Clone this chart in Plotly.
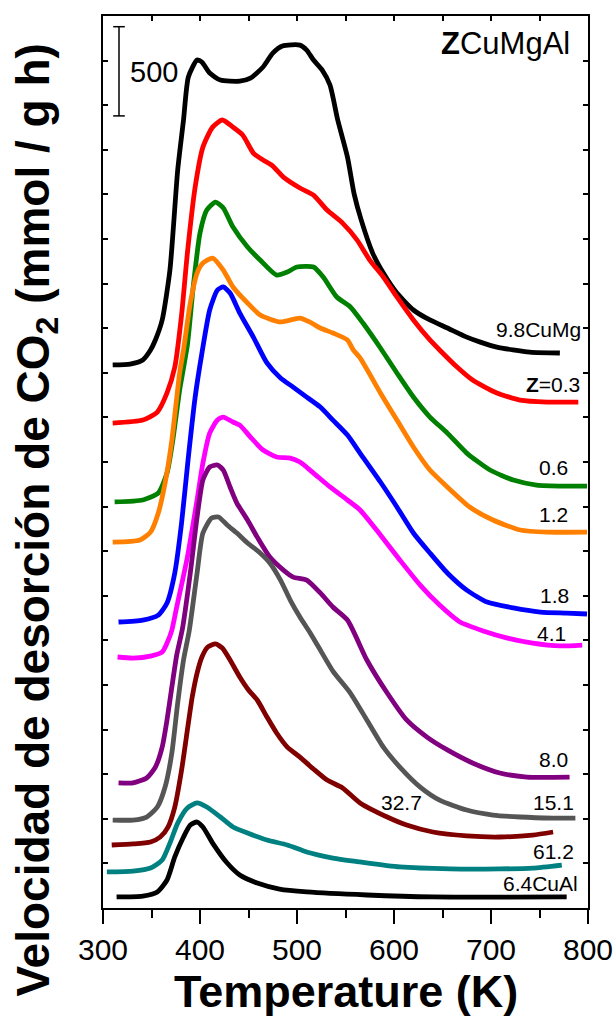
import plotly.graph_objects as go

# Temperature-programmed desorption profiles (stacked), rate in mmol/(g h)
labels = ["9.8CuMg", "<b>Z</b>=0.3", "0.6", "1.2", "1.8", "4.1", "8.0", "15.1", "32.7", "61.2", "6.4CuAl"]
colors = ["#000000", "#FF0000", "#008000", "#FF8000", "#0000FF", "#FF00FF",
          "#800080", "#555555", "#800000", "#008080", "#000000"]

t_cumg = [310, 328, 341, 349, 354, 361, 369, 377, 383, 388, 397, 402, 410, 421, 441, 452, 465, 475, 485,
          503, 510, 517, 526, 534, 542, 552, 559, 566, 578, 589, 603, 620, 637, 655, 675, 689, 706, 740, 771]
r_cumg = [3044, 3049, 3072, 3128, 3184, 3296, 3576, 4136, 4417, 4658, 4753, 4742, 4680, 4641, 4635, 4652, 4714,
          4792, 4832, 4837, 4809, 4753, 4697, 4613, 4417, 4210, 4000, 3860, 3671, 3559, 3447, 3352, 3296,
          3251, 3200, 3172, 3144, 3116, 3111]

t_z03 = [310, 341, 356, 366, 374, 381, 387, 395, 403, 413, 423, 434, 444, 455, 465, 474, 486, 503, 517, 531,
         547, 562, 575, 589, 603, 620, 637, 647, 665, 681, 706, 730, 758, 790]
r_z03 = [2718, 2735, 2780, 2887, 3032, 3324, 3671, 4041, 4265, 4377, 4417, 4377, 4333, 4232, 4193, 4164, 4097,
         4036, 3996, 3912, 3839, 3744, 3632, 3537, 3425, 3296, 3184, 3128, 3032, 2959, 2887, 2847, 2836, 2836]

t_z06 = [312, 341, 357, 366, 372, 379, 387, 393, 400, 407, 416, 424, 434, 449, 462, 479, 490, 500, 517, 527,
         541, 555, 568, 586, 603, 620, 637, 655, 675, 699, 723, 747, 778, 799]
r_z06 = [2276, 2287, 2326, 2438, 2623, 2903, 3156, 3481, 3783, 3912, 3957, 3924, 3817, 3705, 3632, 3548, 3565,
         3593, 3593, 3537, 3425, 3369, 3279, 3139, 2999, 2864, 2752, 2662, 2550, 2455, 2399, 2371, 2365, 2365]

t_z12 = [310, 338, 349, 357, 364, 371, 379, 383, 390, 397, 403, 413, 424, 434, 449, 462, 483, 503, 513, 524,
         537, 552, 558, 565, 586, 603, 620, 637, 655, 678, 702, 730, 758, 799]
r_z12 = [2051, 2063, 2107, 2214, 2382, 2623, 2999, 3128, 3391, 3559, 3615, 3643, 3576, 3481, 3391, 3324, 3285,
         3307, 3285, 3251, 3223, 3184, 3128, 3083, 2887, 2735, 2584, 2455, 2360, 2248, 2175, 2119, 2107, 2107]

t_z18 = [316, 341, 357, 366, 374, 381, 388, 395, 402, 410, 418, 424, 431, 441, 455, 469, 483, 496, 510, 524,
         537, 552, 565, 586, 603, 620, 637, 655, 675, 696, 723, 751, 778, 799]
r_z18 = [1603, 1614, 1642, 1710, 1878, 2158, 2528, 2864, 3111, 3352, 3464, 3481, 3447, 3335, 3200, 3055, 2971,
         2920, 2864, 2808, 2735, 2651, 2550, 2388, 2248, 2102, 1990, 1878, 1782, 1715, 1682, 1659, 1653, 1648]

t_z41 = [315, 331, 349, 361, 366, 371, 376, 387, 397, 403, 410, 418, 424, 434, 441, 452, 465, 479, 493, 503,
         517, 534, 552, 565, 586, 606, 627, 647, 668, 692, 717, 743, 771, 794]
r_z41 = [1407, 1401, 1412, 1435, 1485, 1558, 1687, 1967, 2287, 2494, 2662, 2735, 2752, 2724, 2707, 2640, 2567,
         2528, 2522, 2500, 2438, 2360, 2287, 2231, 2091, 1951, 1810, 1698, 1603, 1553, 1513, 1485, 1469, 1474]

t_z80 = [316, 331, 345, 354, 361, 366, 371, 376, 382, 390, 397, 403, 410, 418, 424, 431, 438, 449, 459, 472,
         486, 496, 510, 524, 537, 552, 572, 593, 613, 634, 655, 681, 709, 737, 781]
r_z80 = [701, 701, 729, 790, 902, 1054, 1239, 1418, 1569, 1878, 2192, 2399, 2472, 2483, 2455, 2360, 2270, 2175,
         2079, 1967, 1894, 1855, 1838, 1766, 1687, 1614, 1390, 1205, 1054, 958, 886, 813, 757, 734, 734]

t_z151 = [310, 331, 345, 356, 364, 371, 377, 383, 389, 397, 403, 412, 419, 428, 438, 449, 462, 472, 483, 493,
          503, 513, 521, 537, 555, 572, 589, 606, 627, 647, 675, 702, 730, 764, 787]
r_z151 = [493, 493, 510, 566, 678, 869, 1149, 1390, 1558, 1878, 2102, 2186, 2192, 2147, 2102, 2046, 1990, 1934,
          1838, 1726, 1631, 1547, 1474, 1328, 1205, 1054, 902, 790, 678, 605, 549, 521, 510, 504, 504]

t_z327 = [309, 331, 349, 359, 367, 374, 381, 387, 392, 397, 402, 408, 416, 423, 431, 441, 450, 459, 469, 479,
          490, 503, 517, 531, 547, 565, 593, 613, 640, 675, 709, 743, 764]
r_z327 = [353, 359, 370, 398, 454, 566, 773, 998, 1183, 1317, 1407, 1463, 1480, 1457, 1390, 1295, 1222, 1166,
          1071, 981, 902, 846, 779, 717, 673, 589, 510, 465, 426, 404, 398, 409, 426]

t_z612 = [304, 331, 349, 361, 369, 377, 387, 397, 407, 421, 434, 449, 469, 490, 510, 537, 565, 606, 658, 709,
          743, 773]
r_z612 = [202, 207, 224, 269, 364, 476, 561, 589, 566, 510, 454, 420, 381, 353, 314, 280, 258, 230, 219, 219,
          224, 241]

t_cual = [314, 341, 356, 366, 374, 383, 390, 397, 403, 413, 428, 441, 459, 482, 510, 572, 640, 778]
r_cual = [62, 67, 90, 157, 286, 398, 465, 482, 454, 364, 252, 185, 140, 106, 90, 73, 62, 62]

temps = [t_cumg, t_z03, t_z06, t_z12, t_z18, t_z41, t_z80, t_z151, t_z327, t_z612, t_cual]
rates = [r_cumg, r_z03, r_z06, r_z12, r_z18, r_z41, r_z80, r_z151, r_z327, r_z612, r_cual]

# label anchor (temperature, rate) and horizontal anchor for each curve label
label_t = [795, 794, 781, 781, 782, 779, 781, 788, 585, 788, 792]
label_r = [3245, 2937, 2472, 2203, 1749, 1536, 830, 589, 589, 314, 140]
label_anchor = ["right"] * 8 + ["left", "right", "right"]

FONT = "Liberation Sans, Arial, Helvetica, sans-serif"

fig = go.Figure()
for t, r, c, name in zip(temps, rates, colors, labels):
    fig.add_trace(go.Scatter(x=t, y=r, mode="lines", name=name,
                             line=dict(color=c, width=4.8, shape="spline", smoothing=0.6),
                             showlegend=False, hoverinfo="skip"))

# invisible trace so the mirrored top/right tick axes are rendered
fig.add_trace(go.Scatter(x=[300], y=[0], xaxis="x2", yaxis="y2", mode="markers",
                         marker=dict(opacity=0), showlegend=False, hoverinfo="skip"))

for lt, lr, txt, anc in zip(label_t, label_r, labels, label_anchor):
    fig.add_annotation(x=lt, y=lr, text=txt, showarrow=False, xanchor=anc, yanchor="middle",
                       font=dict(family=FONT, size=21, color="black"))

# sample-series heading
fig.add_annotation(x=0.967, y=0.969, xref="paper", yref="paper", text="<b>Z</b>CuMgAl",
                   showarrow=False, xanchor="right", yanchor="middle",
                   font=dict(family=FONT, size=31, color="black"))

# 500 mmol/(g h) scale bar
bar_lo, bar_hi = 4440, 4940
fig.add_shape(type="line", x0=316.5, x1=316.5, y0=bar_lo, y1=bar_hi, line=dict(color="black", width=1.5))
fig.add_shape(type="line", x0=310.5, x1=322.5, y0=bar_lo, y1=bar_lo, line=dict(color="black", width=1.5))
fig.add_shape(type="line", x0=310.5, x1=322.5, y0=bar_hi, y1=bar_hi, line=dict(color="black", width=1.5))
fig.add_annotation(x=0.0515, y=0.937, xref="paper", yref="paper", text="500", showarrow=False,
                   xanchor="left", yanchor="middle", font=dict(family=FONT, size=29, color="black"))

# axis titles
fig.add_annotation(x=-0.137, y=0.435, xref="paper", yref="paper",
                   text="<b>Velocidad de desorción de CO<sub>2</sub> (mmol / g h)</b>",
                   textangle=-90, showarrow=False, xanchor="center", yanchor="middle",
                   font=dict(family=FONT, size=46, color="black"))
fig.add_annotation(x=0.5, y=-0.094, xref="paper", yref="paper", text="<b>Temperature (K)</b>",
                   showarrow=False, xanchor="center", yanchor="middle",
                   font=dict(family=FONT, size=45, color="black"))

fig.update_layout(
    template="none",
    width=616, height=1018,
    margin=dict(l=103, r=28, t=16, b=110, autoexpand=False),
    paper_bgcolor="white", plot_bgcolor="white",
    font=dict(family=FONT, color="black"),
    xaxis=dict(range=[300, 800], tick0=300, dtick=100, ticks="outside", ticklen=14, tickwidth=2,
               tickcolor="black", showline=True, linewidth=2, linecolor="black", mirror=True,
               showgrid=False, zeroline=False, automargin=False,
               tickfont=dict(family=FONT, size=30, color="black"),
               minor=dict(dtick=50, tick0=300, ticks="outside", ticklen=8, tickwidth=2, tickcolor="black",
                          showgrid=False)),
    yaxis=dict(range=[0, 5000], tick0=0, dtick=250, ticks="inside", ticklen=5, tickwidth=1.5,
               tickcolor="black", showline=True, linewidth=2, linecolor="black", mirror=True,
               showgrid=False, zeroline=False, showticklabels=False, automargin=False),
    xaxis2=dict(range=[300, 800], overlaying="x", side="top", tick0=300, dtick=50, ticks="inside",
                ticklen=5, tickwidth=1.5, tickcolor="black", showline=False, showgrid=False,
                zeroline=False, showticklabels=False, automargin=False),
    yaxis2=dict(range=[0, 5000], overlaying="y", side="right", tick0=0, dtick=250, ticks="inside",
                ticklen=5, tickwidth=1.5, tickcolor="black", showline=False, showgrid=False,
                zeroline=False, showticklabels=False, automargin=False),
)

fig.write_html("out.html")
